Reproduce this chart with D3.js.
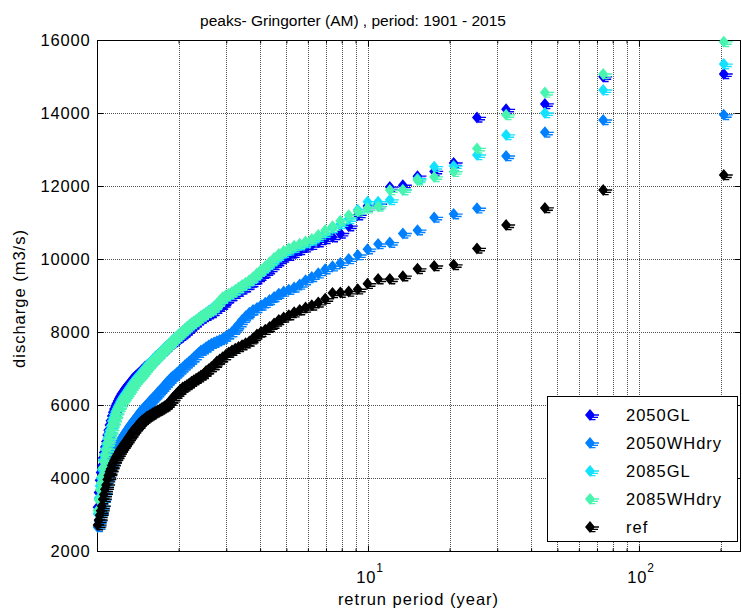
<!DOCTYPE html>
<html>
<head>
<meta charset="utf-8">
<script src="https://cdn.jsdelivr.net/npm/d3@7"></script>
<style>
body { margin: 0; background: #fff; }
svg { display: block; font-family: "Liberation Sans", Arial, sans-serif; }
</style>
</head>
<body>
<div id="chart"></div>
<script>
// Gringorter return periods (years), rank 1..115
const returnPeriods = [205.6,73.79,44.97,32.34,25.25,20.71,17.55,15.23,13.45,12.04,
  10.90,9.958,9.166,8.490,7.907,7.398,6.952,6.556,6.203,5.885,
  5.599,5.340,5.103,4.886,4.687,4.504,4.334,4.177,4.031,3.894,
  3.767,3.648,3.536,3.430,3.331,3.237,3.149,3.065,2.985,2.910,
  2.838,2.770,2.705,2.643,2.583,2.527,2.472,2.420,2.371,2.323,
  2.277,2.233,2.190,2.149,2.110,2.072,2.035,2.000,1.966,1.933,
  1.901,1.870,1.840,1.811,1.783,1.756,1.730,1.704,1.679,1.655,
  1.632,1.609,1.587,1.565,1.544,1.524,1.504,1.484,1.465,1.447,
  1.429,1.411,1.394,1.378,1.361,1.345,1.330,1.315,1.300,1.285,
  1.271,1.257,1.244,1.230,1.217,1.205,1.192,1.180,1.168,1.156,
  1.145,1.134,1.122,1.112,1.101,1.091,1.080,1.070,1.060,1.051,
  1.041,1.032,1.023,1.014,1.005];

// discharge peaks (m3/s), sorted by rank
const gl2050 = [15070,14990,14250,14100,13880,12630,12400,12270,12020,11970,11500,11450,
  11200,10900,10700,10600,10550,10460,10390,10320,10250,10170,
  10090,10040,9940,9840,9720,9620,9540,9450,9370,9300,
  9230,9170,9110,9050,8990,8930,8860,8750,8690,8640,
  8580,8520,8490,8450,8410,8370,8320,8270,8210,8160,
  8100,8040,7990,7940,7900,7850,7820,7770,7730,7690,
  7650,7610,7560,7510,7470,7420,7380,7340,7290,7250,
  7190,7150,7110,7080,7050,7000,6960,6920,6880,6840,
  6810,6770,6730,6680,6630,6590,6540,6500,6450,6400,
  6350,6300,6240,6180,6110,6040,5970,5890,5800,5700,
  5570,5450,5310,5180,5000,4850,4700,4550,4330,4150,
  3940,3600,3200];

const wh2050 = [13950,13810,13470,12820,11390,11230,11140,10790,10700,10450,10410,10270,
  10110,10000,9890,9800,9720,9610,9510,9420,9300,9220,
  9160,9110,9050,8960,8880,8800,8730,8660,8600,8530,
  8430,8330,8210,8100,8000,7940,7880,7820,7780,7750,
  7710,7680,7630,7580,7530,7490,7430,7370,7310,7250,
  7190,7140,7090,7030,6980,6920,6870,6820,6780,6730,
  6670,6620,6560,6500,6450,6400,6350,6290,6240,6200,
  6150,6100,6050,6010,5960,5910,5870,5820,5770,5710,
  5660,5610,5560,5510,5460,5410,5350,5300,5240,5190,
  5140,5080,5030,4950,4880,4820,4760,4670,4570,4480,
  4380,4300,4180,4070,3920,3750,3570,3400,3220,3120,
  3000,2820,2660];

const gl2085 = [15340,14630,14000,13400,12850,12550,12530,12200,11890,11620,11570,11570,
  11350,11100,10960,10850,10720,10610,10510,10440,10380,10310,
  10240,10170,10090,9990,9880,9780,9680,9590,9490,9400,
  9330,9270,9200,9140,9090,9030,8980,8920,8850,8770,
  8700,8630,8580,8530,8480,8430,8380,8330,8280,8230,
  8180,8140,8080,8030,7980,7930,7880,7830,7780,7720,
  7670,7620,7580,7530,7480,7430,7380,7340,7300,7250,
  7210,7160,7110,7070,7020,6960,6910,6870,6820,6770,
  6730,6680,6630,6580,6530,6470,6420,6360,6310,6260,
  6210,6150,6090,6020,5960,5890,5820,5740,5650,5560,
  5420,5300,5190,5080,4930,4790,4630,4480,4230,4000,
  3780,3450,3020];

const wh2085 = [15950,15070,14560,13950,13030,12390,12250,12160,11890,11890,11440,11390,
  11300,11200,11050,10900,10790,10660,10550,10480,10420,10360,
  10290,10220,10140,10030,9910,9800,9700,9600,9500,9420,
  9350,9290,9220,9150,9090,9040,9000,8950,8860,8770,
  8680,8600,8560,8520,8470,8430,8380,8330,8280,8240,
  8190,8140,8080,8030,7970,7920,7870,7820,7760,7710,
  7660,7610,7560,7510,7460,7410,7360,7310,7270,7220,
  7180,7120,7070,7020,6970,6910,6860,6810,6760,6720,
  6680,6630,6580,6520,6470,6410,6360,6300,6250,6200,
  6160,6090,6020,5960,5890,5820,5730,5630,5540,5450,
  5300,5200,5070,4950,4780,4620,4450,4280,4040,3860,
  3680,3400,3110];

const ref = [12300,11890,11400,10930,10290,9840,9810,9730,9530,9450,9450,9320,
  9170,9110,9080,9070,8910,8810,8730,8670,8600,8540,
  8460,8400,8330,8230,8140,8060,8000,7930,7830,7740,
  7690,7640,7590,7540,7490,7440,7370,7310,7250,7190,
  7100,7040,6980,6930,6850,6810,6760,6720,6680,6640,
  6590,6550,6510,6480,6420,6370,6310,6250,6190,6120,
  6060,6010,5970,5940,5910,5880,5850,5830,5800,5780,
  5750,5720,5690,5670,5630,5600,5570,5530,5490,5430,
  5390,5350,5300,5250,5190,5140,5090,5030,4980,4930,
  4880,4830,4780,4720,4660,4600,4550,4480,4410,4340,
  4250,4170,4070,3960,3810,3690,3550,3420,3230,3100,
  2980,2850,2710];

const seriesNames = ["2050GL", "2050WHdry", "2085GL", "2085WHdry", "ref"];
const seriesColors = ["#0000ff", "#0080ff", "#12e2ff", "#48f5b0", "#000000"];
const seriesValues = [gl2050, wh2050, gl2085, wh2085, ref];

const xGridTicks = [2, 3, 4, 5, 6, 7, 8, 9, 10, 20, 30, 40, 50, 60, 70, 80, 90, 100, 200];
const xMajorTicks = [10, 100];
const yTicks = [2000, 4000, 6000, 8000, 10000, 12000, 14000, 16000];

// Layout
const W = 742, H = 616;
const PLOT = { left: 97, right: 740, top: 40, bottom: 551 };

const svg = d3.select("#chart").append("svg")
    .attr("width", W)
    .attr("height", H);

const x = d3.scaleLog().domain([1, 236]).range([PLOT.left, PLOT.right]);
const y = d3.scaleLinear().domain([2000, 16000]).range([PLOT.bottom, PLOT.top]);

// Grid
const grid = svg.append("g").attr("stroke", "#505050").attr("stroke-dasharray", "1,1");
grid.selectAll(".vg").data(xGridTicks).join("line")
    .attr("x1", d => Math.round(x(d)) + 0.5).attr("x2", d => Math.round(x(d)) + 0.5)
    .attr("y1", PLOT.top).attr("y2", PLOT.bottom);
grid.selectAll(".hg").data(yTicks.slice(1, -1)).join("line")
    .attr("x1", PLOT.left).attr("x2", PLOT.right)
    .attr("y1", d => Math.round(y(d)) + 0.5).attr("y2", d => Math.round(y(d)) + 0.5);

// Axes (ticks inside, MATLAB style)
const fontTick = "16.5px";
const yAxis = svg.append("g")
    .attr("transform", `translate(${PLOT.left + 0.5},0)`)
    .call(d3.axisLeft(y).tickValues(yTicks).tickSize(-6).tickPadding(7).tickFormat(d3.format("d")));
yAxis.select(".domain").remove();
yAxis.selectAll("text").attr("font-size", fontTick).attr("letter-spacing", "0.8px")
    .attr("fill", "#000").attr("font-family", "Liberation Sans, Arial, sans-serif");

svg.append("g")
    .attr("transform", `translate(${PLOT.right + 0.5},0)`)
    .call(d3.axisRight(y).tickValues(yTicks).tickSize(-6).tickFormat(""))
    .select(".domain").remove();

const minorTicks = xGridTicks.filter(d => !xMajorTicks.includes(d));
[[PLOT.bottom, d3.axisBottom], [PLOT.top, d3.axisTop]].forEach(([py, fn]) => {
    svg.append("g").attr("transform", `translate(0,${py + 0.5})`)
        .call(fn(x).tickValues(minorTicks).tickSize(-3).tickFormat(""))
        .select(".domain").remove();
    svg.append("g").attr("transform", `translate(0,${py + 0.5})`)
        .call(fn(x).tickValues(xMajorTicks).tickSize(-6).tickFormat(""))
        .select(".domain").remove();
});

// x tick labels 10^1, 10^2
const xLab = svg.append("g").selectAll("text").data(xMajorTicks).join("text")
    .attr("x", d => x(d) + 2)
    .attr("y", 583)
    .attr("text-anchor", "middle")
    .attr("font-size", fontTick)
    .attr("letter-spacing", "0.8px");
xLab.append("tspan").text("10");
xLab.append("tspan").attr("dy", -11).attr("font-size", "12px").text(d => Math.round(Math.log10(d)));

// Box
svg.append("rect")
    .attr("x", PLOT.left + 0.5).attr("y", PLOT.top + 0.5)
    .attr("width", PLOT.right - PLOT.left).attr("height", PLOT.bottom - PLOT.top)
    .attr("fill", "none").attr("stroke", "#000");

// Marker: filled diamond with the streaky right edge of the exported figure
const markerPath = "M0,-6L5,0L0,6L-5,0Z M2,-0.7h7v1.4h-7Z M2,1.7h6v1.4h-6Z M1,3.9h4.5v1.4h-4.5Z";

seriesValues.forEach((vals, i) => {
    svg.append("g").attr("fill", seriesColors[i])
        .selectAll("path").data(vals).join("path")
        .attr("d", markerPath)
        .attr("transform", (v, k) => `translate(${x(returnPeriods[k])},${y(v)})`);
});

// Title and axis labels
svg.append("text")
    .attr("x", 353).attr("y", 26)
    .attr("text-anchor", "middle")
    .attr("font-size", "15.5px")
    .text("peaks- Gringorter (AM) , period: 1901 - 2015");

svg.append("text")
    .attr("x", (PLOT.left + PLOT.right) / 2).attr("y", 605)
    .attr("text-anchor", "middle")
    .attr("font-size", "16.5px").attr("letter-spacing", "1px")
    .text("retrun period (year)");

svg.append("text")
    .attr("transform", `translate(25,${(PLOT.top + PLOT.bottom) / 2 + 3}) rotate(-90)`)
    .attr("text-anchor", "middle")
    .attr("font-size", "16.5px").attr("letter-spacing", "1px")
    .text("discharge (m3/s)");

// Legend
const legend = svg.append("g");
legend.append("rect")
    .attr("x", 547.5).attr("y", 396.5).attr("width", 190).attr("height", 145)
    .attr("fill", "#fff").attr("stroke", "#000");
seriesNames.forEach((name, i) => {
    const ly = 415 + i * 28;
    legend.append("path").attr("d", markerPath).attr("fill", seriesColors[i])
        .attr("transform", `translate(590,${ly})`);
    legend.append("text").attr("x", 626).attr("y", ly + 6)
        .attr("font-size", "16.5px").attr("letter-spacing", "1px")
        .text(name);
});
</script>
</body>
</html>
